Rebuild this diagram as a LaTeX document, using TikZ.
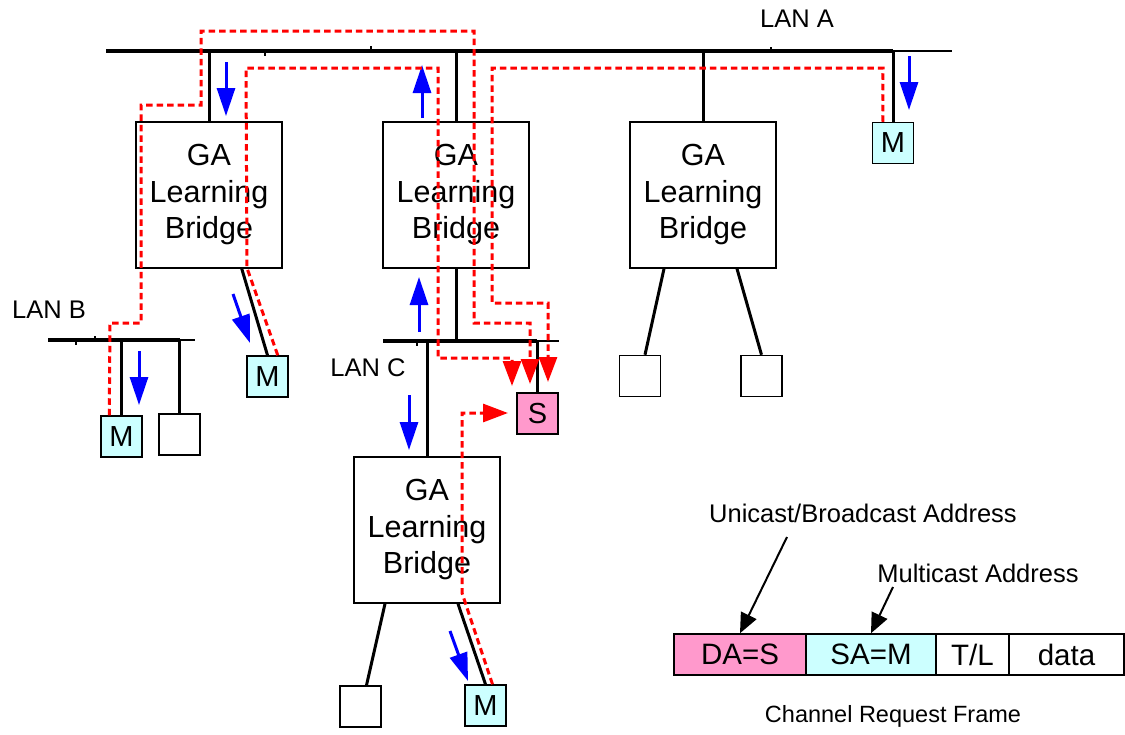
\documentclass[tikz,border=0pt]{standalone}
\usepackage{fontspec}
\setmainfont{Liberation Sans}
\usetikzlibrary{arrows.meta,calc}
\definecolor{mcyan}{HTML}{CCFFFF}
\definecolor{spink}{HTML}{FF99CC}
\begin{document}
\begin{tikzpicture}[x=1pt,y=-1pt,
  bridgebox/.style={draw, fill=white, line width=1.5pt, minimum width=146pt, minimum height=146pt, inner sep=0pt, align=center, font=\fontsize{30.5}{36.5}\selectfont},
  stationbox/.style={draw, line width=1.5pt, minimum size=41pt, inner sep=0pt, font=\fontsize{29}{30}\selectfont},
  cell/.style={draw, line width=1.5pt, minimum height=41pt, inner sep=0pt, font=\fontsize{29.5}{30}\selectfont},
  bus/.style={line width=4pt},
  busend/.style={line width=2.5pt},
  link/.style={line width=3pt},
  tick/.style={line width=1.5pt},
  flow/.style={blue, line width=3pt, -{Triangle[length=28pt,width=18pt]}},
  route/.style={red, line width=3pt, dash pattern=on 6.5pt off 4pt, -{Triangle[length=25pt,width=18pt]}},
  lanlabel/.style={font=\fontsize{25.5}{27}\selectfont},
  ptr/.style={line width=2pt, -{Triangle[length=20pt,width=17pt]}}
]
\useasboundingbox (0,0) rectangle (1125,734);

% LAN buses
\coordinate (lanAL) at (106,51);
\coordinate (lanAR) at (893,51);
\coordinate (lanAE) at (952,51);
\coordinate (lanBL) at (48,340);
\coordinate (lanBR) at (180,340);
\coordinate (lanBE) at (195,340);
\coordinate (lanCL) at (383,341);
\coordinate (lanCR) at (537,341);
\coordinate (lanCE) at (559,341);
\draw[bus] (lanAL) -- (lanAR);
\draw[busend] (lanAR) -- (lanAE);
\draw[bus] (lanBL) -- (lanBR);
\draw[busend] (lanBR) -- (lanBE);
\draw[bus] (lanCL) -- (lanCR);
\draw[busend] (lanCR) -- (lanCE);
\draw[tick] (265,51) -- (265,56);
\draw[tick] (371,51) -- (371,46);
\draw[tick] (771,51) -- (771,47);
\draw[tick] (76,340) -- (76,345);
\draw[tick] (95,340) -- (95,336);
\draw[tick] (417,341) -- (417,346);

\node[lanlabel] (la) at (797,19) {LAN A};
\node[lanlabel] (lb) at (49,310) {LAN B};
\node[lanlabel] (lc) at (368,368) {LAN C};

% bridges and stations
\node[bridgebox] (b1) at (209,195) {GA\\Learning\\Bridge};
\node[bridgebox] (b2) at (456,195) {GA\\Learning\\Bridge};
\node[bridgebox] (b3) at (703,195) {GA\\Learning\\Bridge};
\node[bridgebox] (b4) at (427,530) {GA\\Learning\\Bridge};
\node[stationbox, fill=mcyan] (mA) at (893,143) {M};
\node[stationbox, fill=mcyan] (m1) at (267.5,376.5) {M};
\node[stationbox, fill=mcyan] (mB) at (121.5,436.5) {M};
\node[stationbox] (eB) at (179.5,434.5) {};
\node[stationbox, fill=spink] (S) at (537.5,413.5) {S};
\node[stationbox] (e3l) at (640,376) {};
\node[stationbox] (e3r) at (761.5,376) {};
\node[stationbox] (e4l) at (360.5,706.5) {};
\node[stationbox, fill=mcyan] (m4) at (485.5,705.5) {M};

% links
\draw[link] (b1.north) -- (b1.north |- lanAL);
\draw[link] (b2.north) -- (b2.north |- lanAL);
\draw[link] (b3.north) -- (b3.north |- lanAL);
\draw[link] (mA.north) -- (mA.north |- lanAL);
\draw[link] ($(b1.south west)+(25,0)$) -- ($(b1.south west)+(25,0)$ |- lanBL);
\draw[link] (mB.north) -- (mB.north |- lanBL);
\draw[link] (eB.north) -- (eB.north |- lanBL);
\draw[link] ($(b1.south east)+(-41,0)$) -- (m1.north);
\draw[link] (b2.south) -- (b2.south |- lanCL);
\draw[link] (b4.north) -- (b4.north |- lanCL);
\draw[link] (S.north) -- (S.north |- lanCL);
\draw[link] ($(b3.south)+(-39,0)$) -- ($(e3l.north)+(5,0)$);
\draw[link] ($(b3.south)+(34,0)$) -- (e3r.north);
\draw[link] ($(b4.south)+(-42,0)$) -- ($(e4l.north)+(6,0)$);
\draw[link] ($(b4.south)+(31,0)$) -- (m4.north);

% blue flow arrows
\draw[flow] (226,62) -- (226,116);
\draw[flow] (422,118) -- (422,65);
\draw[flow] (909,56) -- (909,110);
\draw[flow] (139,351) -- (139,405);
\draw[flow] (233,294) -- (250,343);
\draw[flow] (419,332) -- (419,277);
\draw[flow] (409,395) -- (409,450);
\draw[flow] (450,631) -- (468,681);

% red routes
\draw[route] ($(mB.north west)+(9,0)$) -- (110,323) -- (141,323) -- (141,105) -- (201,105) -- (201,31) -- (474,31) -- (474,323) -- (530,323) -- (530,384);
\draw[route] ($(m1.north east)+(-11,0)$) -- (247,268) -- (246,68) -- (438,68) -- (438,358) -- (512,358) -- (512,386);
\draw[route] ($(mA.north west)+(11,0)$) -- (883,68) -- (492,68) -- (492,303) -- (548,303) -- (548,382);
\draw[route] ($(m4.north)+(7,0)$) -- (462,593) -- (462,413) -- (508,413);

% frame
\node[cell, fill=spink, minimum width=132pt] (da) at (740,654.5) {DA=S};
\node[cell, fill=mcyan, minimum width=130pt] (sa) at (871,654.5) {SA=M};
\node[cell, minimum width=73pt] (tl) at (972.5,654.5) {T/L};
\node[cell, minimum width=115pt] (dt) at (1066.5,654.5) {data};
\node[font=\fontsize{25.5}{27}\selectfont] (uc) at (863,513) {Unicast/Broadcast Address};
\node[font=\fontsize{25.5}{27}\selectfont] (mc) at (978,573) {Multicast Address};
\node[font=\fontsize{23.5}{25}\selectfont] (crf) at (893,716) {Channel Request Frame};
\coordinate (ucs) at (787,537);
\coordinate (mcs) at (893,587);
\draw[ptr] (ucs) -- (da.north);
\draw[ptr] (mcs) -- (sa.north);
\end{tikzpicture}
\end{document}
